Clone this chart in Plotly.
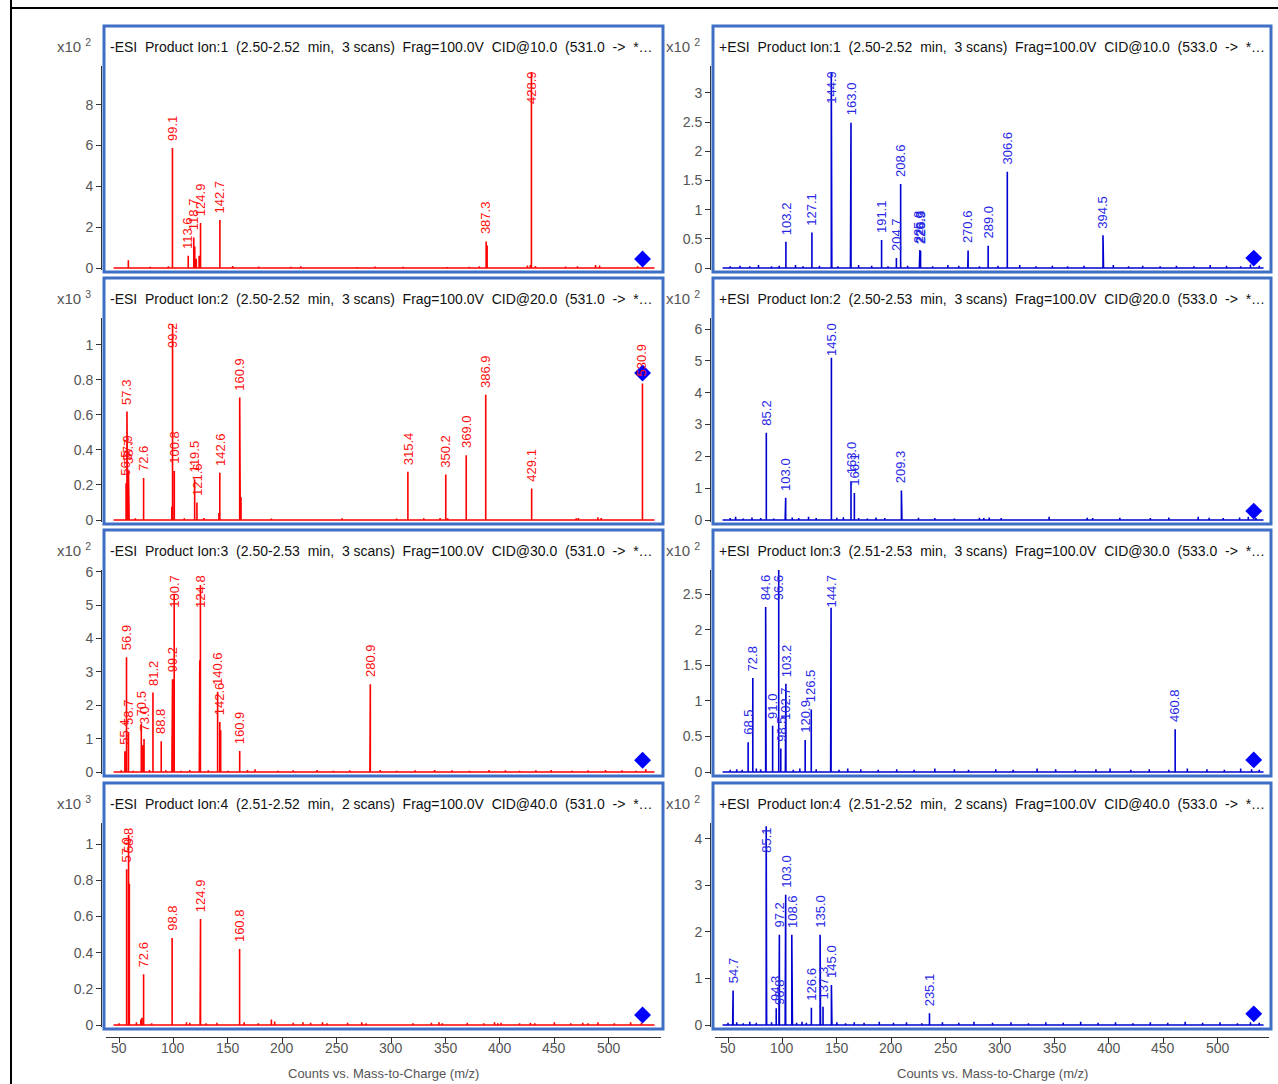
import plotly.graph_objects as go

W, H = 1278, 1084

# ---------------- spectra data (m/z, intensity in panel units, labelled flag) ----------------
# Panel 1: -ESI, CID 10 V  (x10^2)
p1_mz = [58.6, 99.1, 113.6, 118.7, 119.6, 121.0, 123.6, 124.9, 142.7, 387.3, 388.2, 427.9, 428.9]
p1_int = [0.38, 5.88, 0.60, 1.50, 1.05, 0.45, 0.60, 2.20, 2.35, 1.30, 1.10, 0.15, 9.60]
p1_lab = [0, 1, 1, 1, 0, 0, 0, 1, 1, 1, 0, 0, 1]
p1_noise_mz = [78.8, 95.4, 154.4, 178.3, 207.8, 217.0, 268.6, 285.2, 311.0, 351.5, 371.8,
               381.0, 425.2, 432.6, 460.2, 471.2, 487.8, 491.5, 526.5]
p1_noise_int = [0.06, 0.08, 0.10, 0.07, 0.06, 0.08, 0.05, 0.07, 0.06, 0.05, 0.06,
                0.08, 0.12, 0.10, 0.07, 0.08, 0.15, 0.12, 0.08]

# Panel 2: +ESI, CID 10 V  (x10^2)
p2_mz = [103.2, 127.1, 144.9, 145.4, 162.5, 163.0, 191.1, 204.7, 208.6, 225.8, 226.3, 226.9,
         270.3, 270.6, 289.0, 306.6, 394.5, 395.0]
p2_int = [0.45, 0.61, 3.35, 1.93, 0.61, 2.49, 0.48, 0.17, 1.44, 0.30, 0.31, 0.29,
          0.28, 0.30, 0.38, 1.65, 0.56, 0.28]
p2_lab = [1, 1, 1, 0, 0, 1, 1, 1, 1, 1, 1, 1, 0, 1, 1, 1, 1, 0]
p2_noise_mz = [52, 61, 70, 78, 90, 97, 112, 119, 134, 151, 170, 182, 197, 215, 238, 252, 262,
               281, 298, 318, 333, 348, 362, 377, 404, 418, 431, 447, 462, 478, 493, 508, 521, 530, 538]
p2_noise_int = [0.03, 0.04, 0.03, 0.05, 0.03, 0.04, 0.05, 0.03, 0.04, 0.03, 0.05, 0.04, 0.03,
                0.04, 0.03, 0.05, 0.04, 0.03, 0.04, 0.05, 0.03, 0.04, 0.03, 0.04, 0.05, 0.03,
                0.04, 0.03, 0.04, 0.03, 0.05, 0.04, 0.03, 0.06, 0.04]

# Panel 3: -ESI, CID 20 V  (x10^3)
p3_mz = [56.5, 57.3, 57.9, 58.7, 59.3, 72.6, 98.5, 99.2, 100.8, 119.5, 121.6, 141.8, 142.6,
         160.9, 161.4, 162.1, 315.4, 350.2, 369.0, 386.9, 429.1, 530.9]
p3_int = [0.21, 0.62, 0.30, 0.28, 0.19, 0.24, 0.075, 1.12, 0.28, 0.23, 0.10, 0.04, 0.27,
          0.70, 0.34, 0.13, 0.275, 0.26, 0.37, 0.715, 0.18, 0.78]
p3_lab = [1, 1, 1, 1, 0, 1, 0, 1, 1, 1, 1, 0, 1, 1, 0, 0, 1, 1, 1, 1, 1, 1]
p3_noise_mz = [65, 110, 128, 190, 255, 305, 330, 345, 352, 470, 472, 490, 493]
p3_noise_int = [0.01, 0.01, 0.012, 0.008, 0.01, 0.008, 0.01, 0.012, 0.01, 0.01, 0.012, 0.015, 0.012]

# Panel 4: +ESI, CID 20 V  (x10^2)
p4_mz = [85.2, 102.5, 103.0, 145.0, 163.0, 166.1, 209.3, 209.8]
p4_int = [2.74, 0.43, 0.70, 5.10, 1.20, 0.85, 0.93, 0.75]
p4_lab = [1, 0, 1, 1, 1, 1, 1, 0]
p4_noise_mz = [52, 57, 64, 72, 80, 92, 109, 115, 124, 131, 150, 156, 170, 178, 186, 194, 225,
               240, 258, 281, 285, 290, 301, 345, 380, 385, 410, 438, 455, 482, 492, 505, 520, 528, 535]
p4_noise_int = [0.06, 0.1, 0.05, 0.08, 0.06, 0.05, 0.08, 0.06, 0.1, 0.06, 0.07, 0.09, 0.06,
                0.05, 0.08, 0.06, 0.07, 0.06, 0.05, 0.07, 0.06, 0.08, 0.06, 0.1, 0.07, 0.06,
                0.07, 0.06, 0.08, 0.1, 0.07, 0.06, 0.08, 0.1, 0.06]

# Panel 5: -ESI, CID 30 V  (x10^2)
p5_mz = [55.4, 56.9, 58.7, 70.5, 72.0, 73.0, 81.2, 88.8, 98.6, 99.2, 100.7, 123.8, 124.2,
         124.8, 140.6, 142.6, 143.4, 160.9, 280.5, 280.9]
p5_int = [0.62, 3.44, 1.20, 1.45, 0.80, 0.99, 2.38, 0.92, 0.25, 2.78, 5.30, 1.30, 3.35,
          5.60, 2.40, 1.50, 1.25, 0.63, 1.98, 2.63]
p5_lab = [1, 1, 1, 1, 0, 1, 1, 1, 0, 1, 1, 0, 0, 1, 1, 1, 0, 1, 0, 1]
p5_noise_mz = [52, 63, 78, 93, 107, 115, 132, 150, 168, 175, 196, 210, 232, 247, 262, 290, 305,
               322, 340, 356, 372, 390, 405, 418, 433, 447, 466, 481, 497, 512, 525, 534]
p5_noise_int = [0.05, 0.04, 0.06, 0.05, 0.04, 0.06, 0.05, 0.04, 0.06, 0.08, 0.04, 0.05, 0.06,
                0.04, 0.05, 0.06, 0.04, 0.05, 0.06, 0.05, 0.04, 0.06, 0.05, 0.04, 0.05, 0.06,
                0.04, 0.05, 0.06, 0.05, 0.04, 0.08]

# Panel 6: +ESI, CID 30 V  (x10^2)
p6_mz = [68.5, 72.8, 84.6, 85.0, 91.0, 96.6, 98.5, 102.7, 103.2, 120.9, 126.5, 144.3, 144.7, 460.8]
p6_int = [0.42, 1.32, 2.32, 0.31, 0.65, 2.85, 0.33, 0.63, 1.24, 0.45, 0.88, 0.90, 2.31, 0.60]
p6_lab = [1, 1, 1, 0, 1, 1, 1, 1, 1, 1, 1, 0, 1, 1]
p6_noise_mz = [52, 58, 63, 76, 80, 110, 116, 131, 152, 160, 172, 188, 205, 221, 240, 258, 271,
               296, 312, 334, 351, 369, 388, 401, 420, 437, 455, 472, 490, 506, 521, 531, 538]
p6_noise_int = [0.03, 0.04, 0.03, 0.05, 0.04, 0.03, 0.05, 0.04, 0.03, 0.05, 0.04, 0.03, 0.04,
                0.03, 0.05, 0.04, 0.03, 0.04, 0.03, 0.05, 0.04, 0.03, 0.04, 0.05, 0.03, 0.04,
                0.03, 0.05, 0.04, 0.03, 0.05, 0.04, 0.03]

# Panel 7: -ESI, CID 40 V  (x10^3)
p7_mz = [57.0, 58.8, 59.5, 71.0, 72.6, 98.8, 124.5, 124.9, 160.8]
p7_int = [0.86, 1.05, 0.78, 0.04, 0.28, 0.48, 0.15, 0.585, 0.42]
p7_lab = [1, 1, 0, 0, 1, 1, 0, 1, 1]
p7_noise_mz = [50, 66, 70, 80, 112, 115, 130, 140, 165, 178, 190, 193, 210, 219, 226, 237, 241,
               260, 273, 277, 320, 337, 344, 347, 370, 385, 395, 398, 401, 418, 428, 432, 450,
               465, 476, 481, 490, 505, 520, 530]
p7_noise_int = [0.01, 0.015, 0.03, 0.01, 0.015, 0.012, 0.01, 0.012, 0.015, 0.01, 0.03, 0.02,
                0.012, 0.015, 0.012, 0.015, 0.01, 0.012, 0.015, 0.01, 0.01, 0.012, 0.015, 0.01,
                0.012, 0.01, 0.015, 0.01, 0.012, 0.01, 0.012, 0.01, 0.015, 0.01, 0.012, 0.01,
                0.015, 0.01, 0.015, 0.012]

# Panel 8: +ESI, CID 40 V  (x10^2)
p8_mz = [54.3, 54.7, 85.1, 85.5, 94.3, 96.8, 97.2, 102.5, 103.0, 108.6, 109.2, 126.6, 134.6,
         135.0, 137.3, 145.0, 145.5, 235.1]
p8_int = [0.61, 0.74, 4.27, 2.29, 0.36, 0.29, 1.94, 2.50, 2.80, 1.94, 1.79, 0.37, 1.94,
          1.94, 0.39, 0.86, 0.44, 0.25]
p8_lab = [0, 1, 1, 0, 1, 1, 1, 0, 1, 1, 0, 1, 0, 1, 1, 1, 0, 1]
p8_noise_mz = [50, 58, 64, 70, 76, 90, 113, 118, 122, 150, 158, 166, 175, 189, 202, 214, 228,
               247, 262, 276, 293, 310, 326, 342, 358, 374, 390, 406, 422, 438, 454, 470, 486,
               502, 518, 530, 538]
p8_noise_int = [0.05, 0.06, 0.04, 0.07, 0.05, 0.06, 0.05, 0.07, 0.05, 0.06, 0.04, 0.06, 0.05,
                0.07, 0.05, 0.06, 0.04, 0.06, 0.05, 0.07, 0.05, 0.06, 0.04, 0.06, 0.05, 0.07,
                0.05, 0.06, 0.04, 0.06, 0.05, 0.07, 0.05, 0.06, 0.04, 0.06, 0.05]

titles = [
    "-ESI  Product Ion:1  (2.50-2.52  min,  3 scans)  Frag=100.0V  CID@10.0  (531.0  ->  *…",
    "+ESI  Product Ion:1  (2.50-2.52  min,  3 scans)  Frag=100.0V  CID@10.0  (533.0  ->  *…",
    "-ESI  Product Ion:2  (2.50-2.52  min,  3 scans)  Frag=100.0V  CID@20.0  (531.0  ->  *…",
    "+ESI  Product Ion:2  (2.50-2.53  min,  3 scans)  Frag=100.0V  CID@20.0  (533.0  ->  *…",
    "-ESI  Product Ion:3  (2.50-2.53  min,  3 scans)  Frag=100.0V  CID@30.0  (531.0  ->  *…",
    "+ESI  Product Ion:3  (2.51-2.53  min,  3 scans)  Frag=100.0V  CID@30.0  (533.0  ->  *…",
    "-ESI  Product Ion:4  (2.51-2.52  min,  2 scans)  Frag=100.0V  CID@40.0  (531.0  ->  *…",
    "+ESI  Product Ion:4  (2.51-2.52  min,  2 scans)  Frag=100.0V  CID@40.0  (533.0  ->  *…",
]
exponents = [2, 2, 3, 2, 2, 2, 3, 2]
precursor_mz = [531.0, 533.0, 531.0, 533.0, 531.0, 533.0, 531.0, 533.0]
precursor_int = [0.44, 0.17, 0.84, 0.28, 0.35, 0.17, 0.055, 0.24]
y_top = [9.9, 3.46, 1.154, 6.35, 6.05, 2.84, 1.116, 4.34]
y_dtick = [2, 0.5, 0.2, 1, 1, 0.5, 0.2, 1]
x_ticks = [50, 100, 150, 200, 250, 300, 350, 400, 450, 500]
x_title = "Counts vs. Mass-to-Charge (m/z)"

spectra = [
    (p1_mz, p1_int, p1_lab, p1_noise_mz, p1_noise_int),
    (p2_mz, p2_int, p2_lab, p2_noise_mz, p2_noise_int),
    (p3_mz, p3_int, p3_lab, p3_noise_mz, p3_noise_int),
    (p4_mz, p4_int, p4_lab, p4_noise_mz, p4_noise_int),
    (p5_mz, p5_int, p5_lab, p5_noise_mz, p5_noise_int),
    (p6_mz, p6_int, p6_lab, p6_noise_mz, p6_noise_int),
    (p7_mz, p7_int, p7_lab, p7_noise_mz, p7_noise_int),
    (p8_mz, p8_int, p8_lab, p8_noise_mz, p8_noise_int),
]

# ---------------- geometry (pixels) and style ----------------
BOX_LEFT = [104, 713]
BOX_RIGHT = [663, 1271]
BOX_TOP = [26, 278, 530, 783]
BOX_H = 246
X_AXIS_PX = 1037
PX_PER_MZ = 1.0885
BOX_BLUE = "#3E6EC5"
LINE_COLORS = ["#FF0000", "#0000D0"]
LABEL_COLORS = ["#FF1010", "#2828E6"]
FONT = "Arial, Liberation Sans, sans-serif"
GRAY = "#555555"
BASE_START, BASE_END = 45.0, 542.0


def px_x(p):
    return p / W


def px_y(p):
    return 1 - p / H


fig = go.Figure()
annotations = []
shapes = []

for i, (mz, inten, lab, nmz, nint) in enumerate(spectra):
    row, col = divmod(i, 2)
    n = i + 1
    xa = "x" if n == 1 else f"x{n}"
    ya = "y" if n == 1 else f"y{n}"
    color = LINE_COLORS[col]
    lcolor = LABEL_COLORS[col]

    # stick spectrum: merge peaks and baseline noise, draw as one polyline
    sticks = sorted(list(zip(mz, inten)) + list(zip(nmz, nint)))
    xs, ys = [BASE_START], [0.0]
    for m, v in sticks:
        xs += [m, m, m]
        ys += [0.0, v, 0.0]
    xs.append(BASE_END)
    ys.append(0.0)
    fig.add_trace(go.Scatter(x=xs, y=ys, mode="lines", line=dict(color=color, width=1.6),
                             xaxis=xa, yaxis=ya, hoverinfo="skip", showlegend=False))
    # precursor marker
    fig.add_trace(go.Scatter(x=[precursor_mz[i]], y=[precursor_int[i]], mode="markers",
                             marker=dict(symbol="diamond", size=13, color="#0000FF"),
                             xaxis=xa, yaxis=ya, hoverinfo="skip", showlegend=False))

    bl, br = BOX_LEFT[col], BOX_RIGHT[col]
    bt = BOX_TOP[row]
    zero_px = bt + 242
    top_px = bt + 40
    bot_px = bt + 244
    k = (zero_px - top_px) / y_top[i]  # pixels per unit
    y_bottom = -(bot_px - zero_px) / k
    tick50 = bl + 15
    x0 = 50 - (tick50 - (bl + 2)) / PX_PER_MZ
    x1 = 50 + ((br - 2) - tick50) / PX_PER_MZ

    xkey = "xaxis" if n == 1 else f"xaxis{n}"
    ykey = "yaxis" if n == 1 else f"yaxis{n}"
    xdict = dict(domain=[px_x(bl + 2), px_x(br - 2)], range=[x0, x1], anchor=ya,
                 showgrid=False, zeroline=False, fixedrange=True, automargin=False)
    if row == 3:
        xdict.update(anchor="free", position=px_y(X_AXIS_PX), showline=True,
                     linecolor="#333333", linewidth=1, ticks="outside", ticklen=5,
                     tickcolor="#333333", tickvals=x_ticks, showticklabels=False)
        # tick labels and axis title sit close under the axis line
        for t in x_ticks:
            annotations.append(dict(x=t, xref=xa, y=px_y(X_AXIS_PX + 11), yref="paper",
                                    text=str(t), showarrow=False, xanchor="center",
                                    yanchor="middle",
                                    font=dict(family=FONT, size=14, color=GRAY)))
        annotations.append(dict(x=px_x((bl + br) / 2), xref="paper", y=px_y(1073),
                                yref="paper", text=x_title, showarrow=False,
                                xanchor="center", yanchor="middle",
                                font=dict(family=FONT, size=13, color=GRAY)))
    else:
        xdict.update(visible=False)
    fig.update_layout({xkey: xdict})

    ydict = dict(domain=[px_y(bot_px), px_y(top_px)], range=[y_bottom, y_top[i]],
                 anchor="free", position=px_x(bl - 3), showline=True, linecolor="#333333",
                 linewidth=1, ticks="outside", ticklen=5, tickcolor="#333333",
                 dtick=y_dtick[i], tick0=0, showgrid=False, zeroline=False, automargin=False,
                 tickfont=dict(family=FONT, size=14, color=GRAY), fixedrange=True)
    fig.update_layout({ykey: ydict})

    # peak labels (pushed down when they would run past the top of the axis)
    for m, v, flag in zip(mz, inten, lab):
        if not flag:
            continue
        text = f"{m:.1f}"
        text_len = sum(7.2 if ch.isdigit() else 3.6 for ch in text)
        if v * k + 6 + text_len > (zero_px - top_px) - 2:
            annotations.append(dict(x=m, y=y_top[i], xref=xa, yref=ya, text=text,
                                    textangle=-90, showarrow=False, xanchor="center",
                                    yanchor="top", yshift=-3,
                                    font=dict(family=FONT, size=13, color=lcolor)))
        else:
            annotations.append(dict(x=m, y=v, xref=xa, yref=ya, text=text, textangle=-90,
                                    showarrow=False, xanchor="center", yanchor="bottom",
                                    yshift=5, font=dict(family=FONT, size=13, color=lcolor)))

    # panel title and intensity multiplier
    annotations.append(dict(x=px_x(bl + 4), y=px_y(bt + 21), xref="paper", yref="paper",
                            text=titles[i], showarrow=False, xanchor="left", yanchor="middle",
                            font=dict(family=FONT, size=14, color="#111111")))
    annotations.append(dict(x=px_x(bl - 11), y=px_y(bt + 19), xref="paper", yref="paper",
                            text=f"x10 <sup>{exponents[i]}</sup>", showarrow=False,
                            xanchor="right", yanchor="middle",
                            font=dict(family=FONT, size=15, color=GRAY)))

    shapes.append(dict(type="rect", xref="paper", yref="paper", x0=px_x(bl), x1=px_x(br),
                       y0=px_y(bt + BOX_H), y1=px_y(bt), line=dict(color=BOX_BLUE, width=3),
                       layer="above"))

# outer frame lines
shapes.append(dict(type="line", xref="paper", yref="paper", x0=px_x(11), x1=px_x(11),
                   y0=0, y1=1, line=dict(color="black", width=2)))
shapes.append(dict(type="line", xref="paper", yref="paper", x0=px_x(11), x1=1,
                   y0=px_y(8), y1=px_y(8), line=dict(color="black", width=2)))

fig.update_layout(width=W, height=H,
                  margin=dict(l=0, r=0, t=0, b=0, pad=0, autoexpand=False),
                  paper_bgcolor="white", plot_bgcolor="white",
                  annotations=annotations, shapes=shapes, showlegend=False)

fig.write_html("out.html", config={"displayModeBar": False})
